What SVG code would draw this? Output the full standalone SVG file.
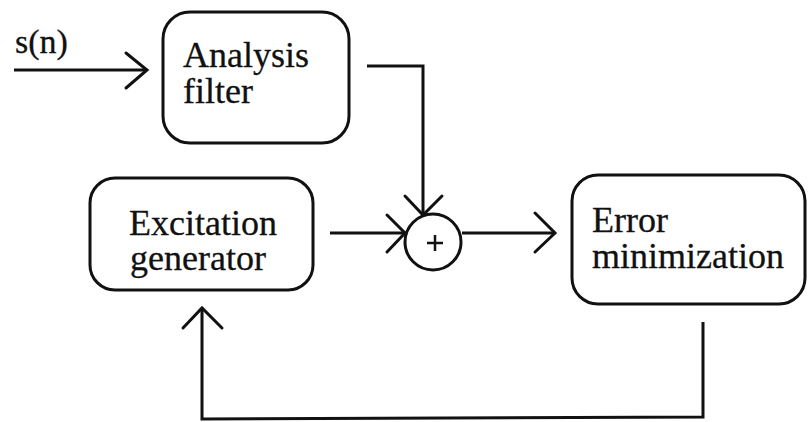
<svg xmlns="http://www.w3.org/2000/svg" width="809" height="422" viewBox="0 0 809 422">
<style>
.box{fill:#fff;stroke:#111;stroke-width:3}
.ln{fill:none;stroke:#111;stroke-width:3;stroke-linejoin:miter;stroke-linecap:butt}
.ah{fill:none;stroke:#111;stroke-width:3;stroke-linecap:round;stroke-linejoin:miter}
.t{fill:#111;stroke:#111;stroke-width:0.3}
</style>
<rect width="809" height="422" fill="#fff"/>
<g id="input-label"><text class="t" x="15" y="53" font-family="Liberation Serif" font-size="34">s(n)</text></g>
<g id="analysis-filter">
<rect class="box" x="163" y="12" width="186" height="131" rx="27"/>
<text class="t" x="183" y="67" font-family="Liberation Serif" font-size="36">Analysis</text>
<text class="t" x="183" y="103" font-family="Liberation Serif" font-size="36">filter</text>
</g>
<g id="excitation-generator">
<rect class="box" x="90" y="178" width="223" height="112" rx="25"/>
<text class="t" x="129" y="235" font-family="Liberation Serif" font-size="36">Excitation</text>
<text class="t" x="130" y="270" font-family="Liberation Serif" font-size="36">generator</text>
</g>
<g id="sum">
<circle class="box" cx="433" cy="242" r="28"/>
<path class="ln" d="M427 243H443M435 235V251" style="stroke-width:2.5"/>
</g>
<g id="error-minimization">
<rect class="box" x="572" y="175" width="233" height="129" rx="26"/>
<text class="t" x="592" y="232" font-family="Liberation Serif" font-size="36">Error</text>
<text class="t" x="592" y="268" font-family="Liberation Serif" font-size="36">minimization</text>
</g>
<g id="connectors">
<path class="ln" d="M14 70H147"/>
<path class="ah" d="M126 53L147 70L126 88"/>
<path class="ln" d="M367 66H423V215"/>
<path class="ah" d="M405 196L423 215L442 196"/>
<path class="ln" d="M330 233H405"/>
<path class="ah" d="M387 215L405 233L387 252"/>
<path class="ln" d="M462 233H555"/>
<path class="ah" d="M535 213L555 233L535 252"/>
<path class="ln" d="M703 322V417L202 419V308"/>
<path class="ah" d="M183 328L202 308L222 328"/>
</g>
</svg>
